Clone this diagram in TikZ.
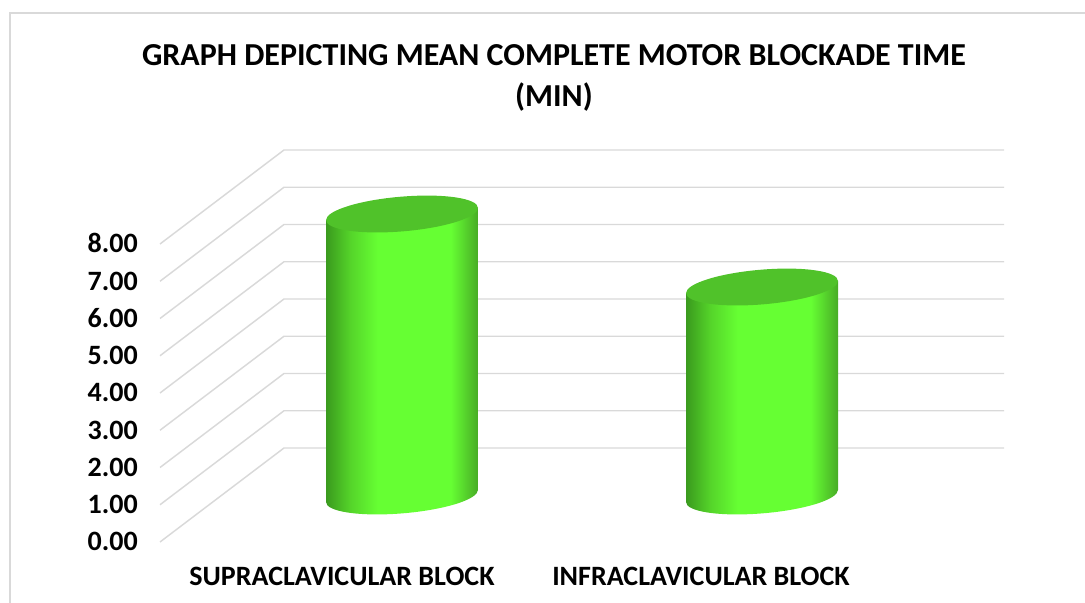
\documentclass[tikz,border=0pt]{standalone}
\usepackage{fontspec}
\setmainfont{Carlito}
\definecolor{gridgray}{HTML}{D9D9D9}
\definecolor{cyldark}{HTML}{3A9A1E}
\definecolor{cylmid}{HTML}{55D42A}
\definecolor{cylbright}{HTML}{66FF33}
\definecolor{cylright}{HTML}{48AC26}
\definecolor{cyltop}{HTML}{50C22A}
\pgfdeclarehorizontalshading{cylside}{100bp}{color(0bp)=(cyldark); color(25bp)=(cyldark); color(33bp)=(cylmid); color(42bp)=(cylbright); color(66bp)=(cylbright); color(75bp)=(cylright); color(100bp)=(cylright)}
\tikzset{
  gridline/.style={draw=gridgray, line width=1.1pt},
  titletext/.style={anchor=base, font=\bfseries\fontsize{24}{28}\selectfont},
  ticklabel/.style={anchor=base east, inner sep=0pt, font=\bfseries\fontsize{21}{24}\selectfont},
  catlabel/.style={anchor=base, font=\bfseries\fontsize{21}{24}\selectfont}
}

\begin{document}
\begin{tikzpicture}[x=0.75pt, y=0.75pt]
  \useasboundingbox (0,0) rectangle (1085,603);
  % chart frame
  \draw[gridgray, line width=1.5pt] (10,0) -- (10,590) -- (1085,590);
  % title
  \node[titletext] (title) at (554,537) {GRAPH DEPICTING MEAN COMPLETE MOTOR BLOCKADE TIME};
  \node[titletext] (unit) at (554,496) {(MIN)};
  % floor and back wall grid, value labels
  \foreach \v in {0,...,8}{
    \draw[gridline] (160,61+37.25*\v) -- (284,155+37.25*\v) -- (1004,155+37.25*\v);
    \node[ticklabel] (tick\v) at (138,52+37.25*\v) {\v.00};
  }
  % cylinders
  \foreach \cx/\val in {402/7.57, 762/5.61}{
    \begin{scope}[shift={(\cx,107)}, yslant=0.08]
      \shade[shading=cylside] (-76,0) -- (-76,37.25*\val) -- (76,37.25*\val) -- (76,0)
        arc[start angle=0, end angle=-180, x radius=76, y radius=17.4] -- cycle;
      \fill[cyltop] (0,37.25*\val) ellipse[x radius=76, y radius=17.4];
    \end{scope}
  }
  % categories
  \node[catlabel] (supra) at (342,17) {SUPRACLAVICULAR BLOCK};
  \node[catlabel] (infra) at (701,17) {INFRACLAVICULAR BLOCK};
\end{tikzpicture}
\end{document}
